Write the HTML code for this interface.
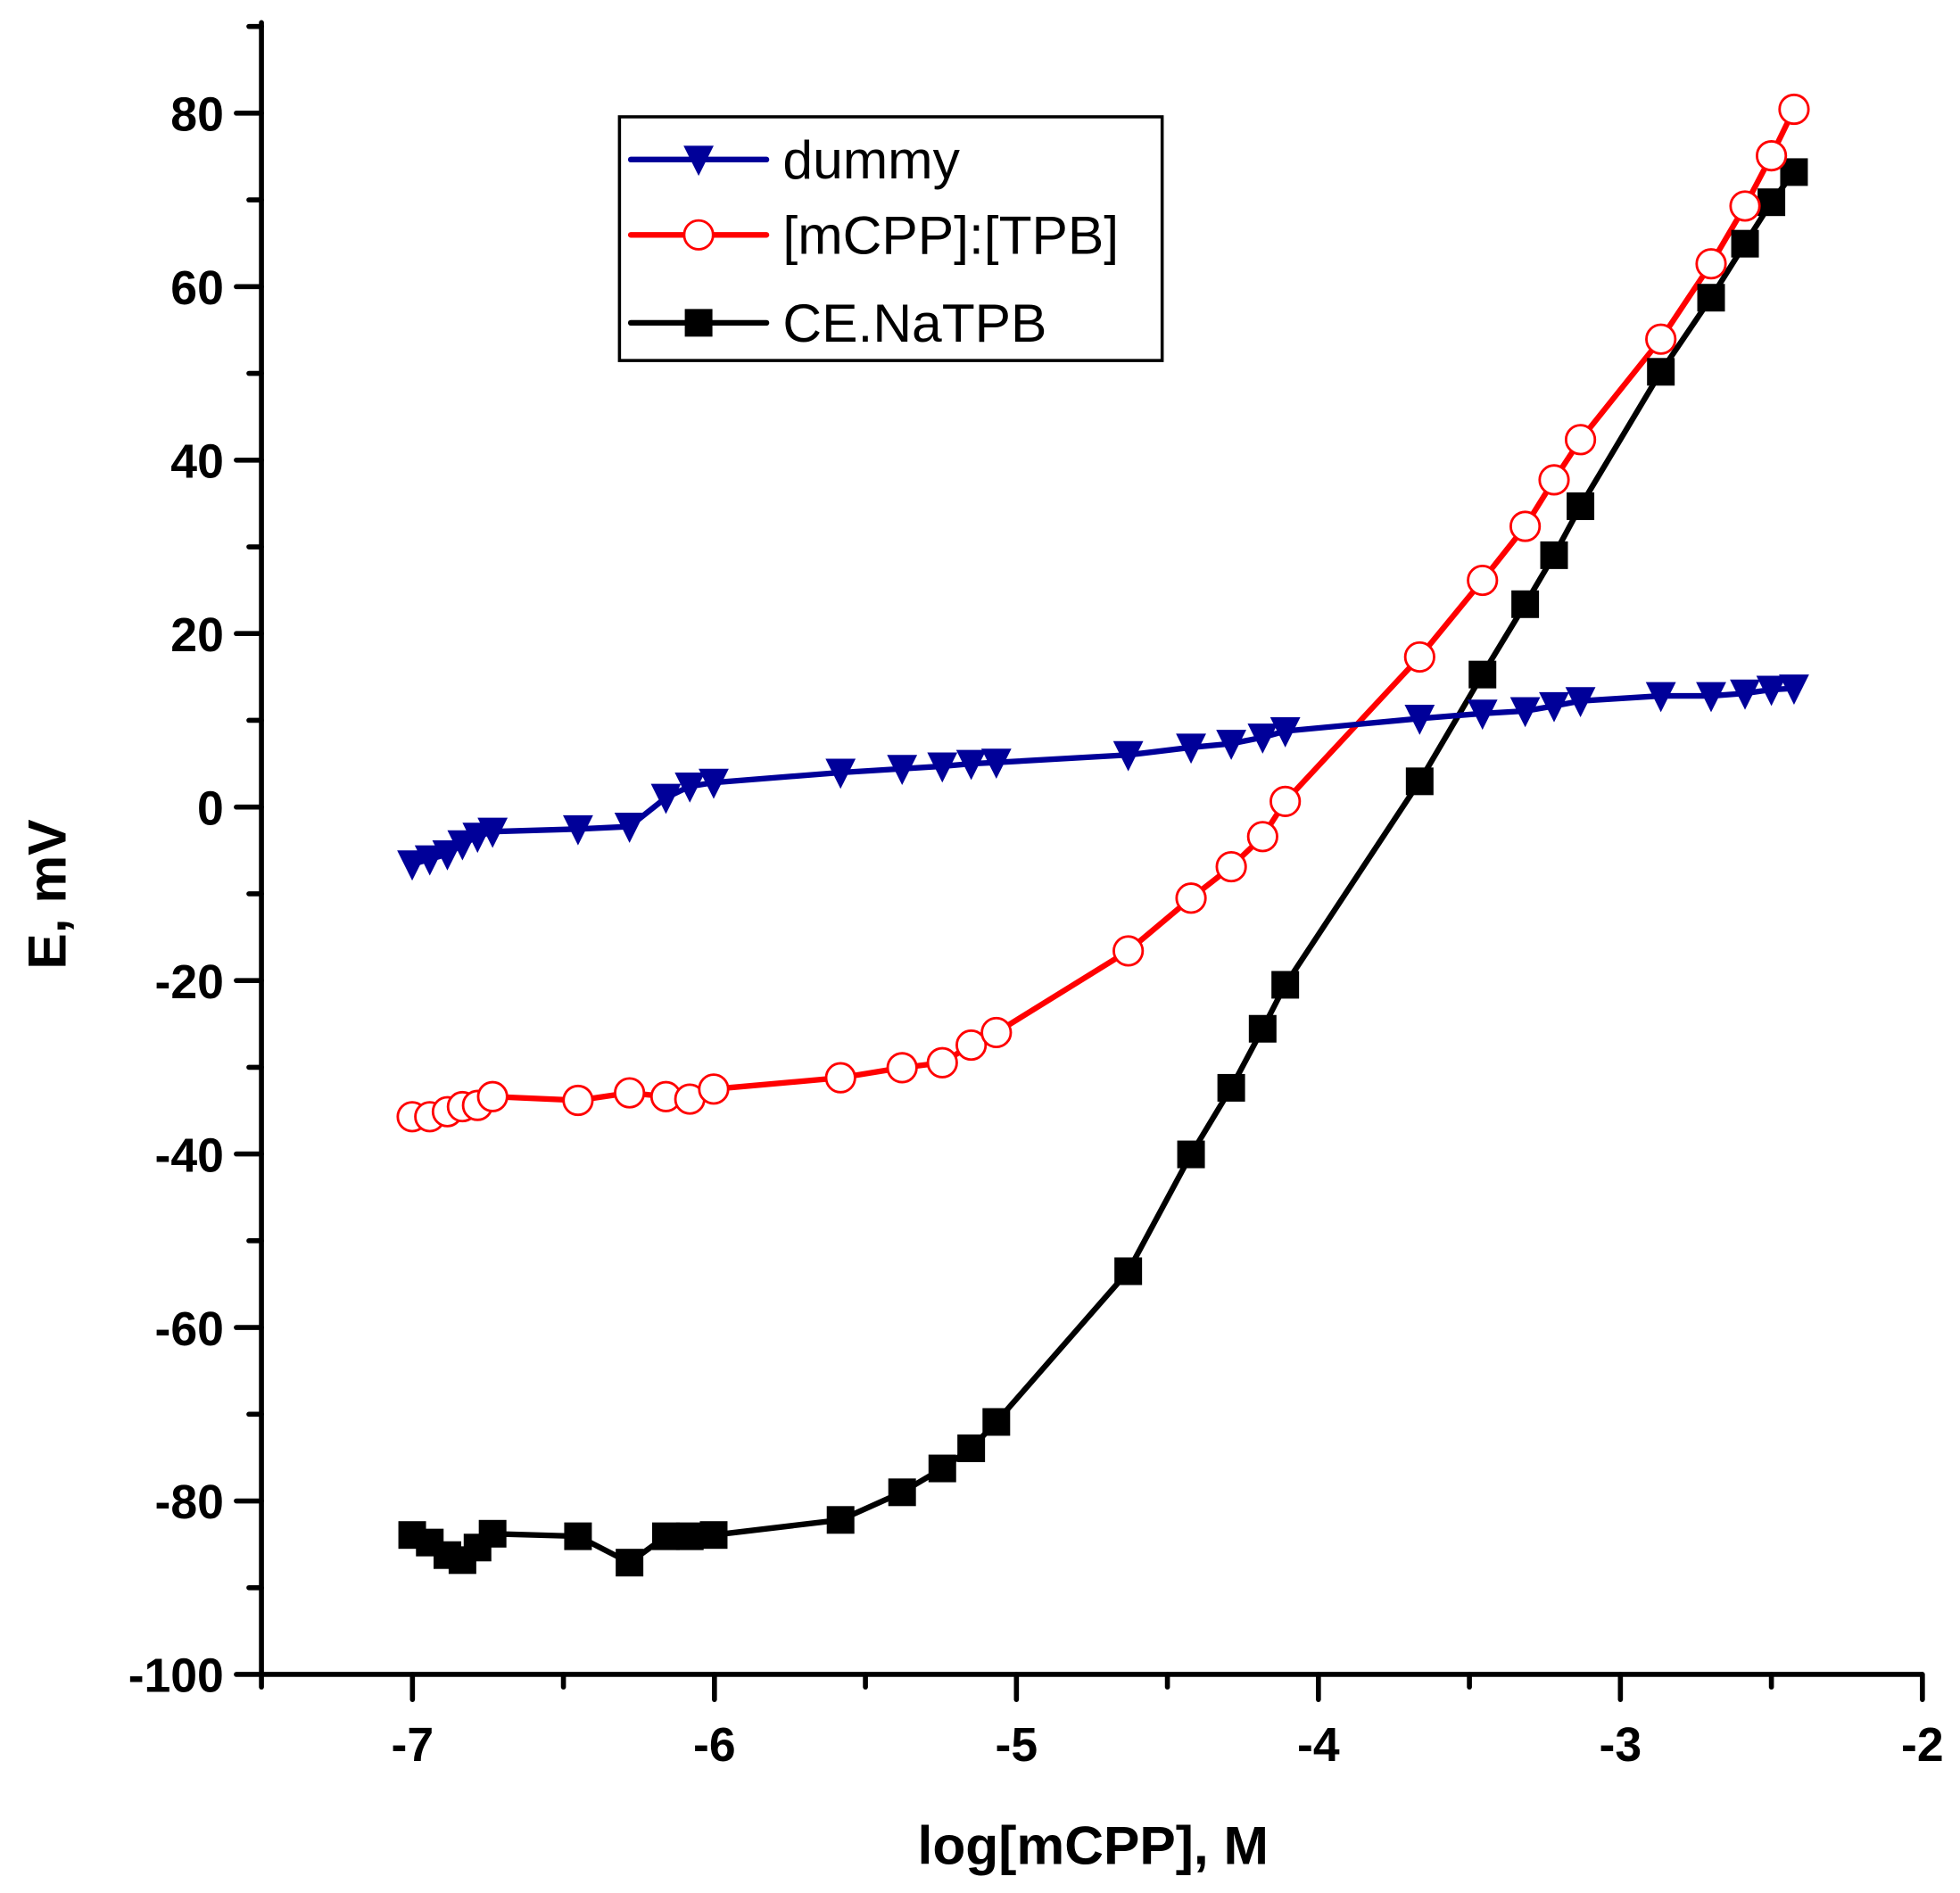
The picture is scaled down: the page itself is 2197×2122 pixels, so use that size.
<!DOCTYPE html>
<html><head><style>html,body{margin:0;padding:0;background:#fff}svg{display:block}</style></head>
<body>
<svg width="2197" height="2122" viewBox="0 0 1560 1507" xmlns="http://www.w3.org/2000/svg" font-family="Liberation Sans, Arial, sans-serif">
<rect width="1560" height="1507" fill="#fff"/>
<g stroke="#000" stroke-width="4" stroke-linecap="round" fill="none">
<line x1="208" y1="18" x2="208" y2="1333"/>
<line x1="208" y1="1333" x2="1530" y2="1333"/>
</g>
<g id="ticks" stroke="#000" stroke-width="4" stroke-linecap="round"></g>
<g font-size="38" font-weight="bold" text-anchor="end" fill="#000" id="ylab"></g>
<g font-size="38" font-weight="bold" text-anchor="middle" fill="#000" id="xlab"></g>
<text x="870" y="1484" font-size="43" font-weight="bold" text-anchor="middle">log[mCPP], M</text>
<text transform="translate(52,712) rotate(-90)" font-size="43" font-weight="bold" text-anchor="middle">E, mV</text>
<g id="series"></g>
<rect x="493" y="93" width="432" height="194" fill="none" stroke="#000" stroke-width="2.5"/>
<line x1="502" y1="127" x2="610" y2="127" stroke="#000099" stroke-width="4.5" stroke-linecap="round"/>
<polygon points="544,116 568,116 556,140" fill="#000099"/>
<line x1="502" y1="187" x2="610" y2="187" stroke="#f00" stroke-width="4.5" stroke-linecap="round"/>
<circle cx="556" cy="187" r="11.5" fill="#fff" stroke="#f00" stroke-width="2"/>
<line x1="502" y1="257" x2="610" y2="257" stroke="#000" stroke-width="4.5" stroke-linecap="round"/>
<rect x="545" y="246" width="22" height="22" fill="#000"/>
<text x="623" y="142" font-size="43">dummy</text>
<text x="623" y="202" font-size="43">[mCPP]:[TPB]</text>
<text x="623" y="272" font-size="43">CE.NaTPB</text>
</svg>
<script>
var NS="http://www.w3.org/2000/svg";
function el(p,t,a,txt){var e=document.createElementNS(NS,t);for(var k in a)e.setAttribute(k,a[k]);if(txt!=null)e.textContent=txt;p.appendChild(e);return e;}
var tk=document.getElementById('ticks'),yl=document.getElementById('ylab'),xl=document.getElementById('xlab');
for(var v=-100;v<=90;v+=10){var y=1333-(v+100)*138.1/20;var maj=(v%20===0);
el(tk,'line',{x1:208,y1:y,x2:maj?188:198,y2:y});
if(maj)el(yl,'text',{x:178,y:y+14},String(v));}
for(var i=0;i<=11;i++){var x=208+i*120.2;var maj=(i%2===1);
el(tk,'line',{x1:x,y1:1333,x2:x,y2:maj?1353:1343});
if(maj)el(xl,'text',{x:x,y:1402},String(-7+(i-1)/2));}
var xs=[328,342,356,368,380,392,460,501,530,549,568,669,718,750,773,793,898,948,980,1005,1023,1130,1180,1214,1237,1258,1322,1362,1389,1410,1428];
var blue=[688,684,680,672,666,662,660,658,635,626,623,615,612,610,608,607,601,595,592,587,582,572,568,566,562,558,554,554,552,549,548];
var red=[889,889,885,881,880,873,876,870,873,875,867,858,850,846,832,822,757,715,690,666,638,523,462,419,382,350,270,210,164,124,87];
var blk=[1222,1228,1238,1242,1232,1221,1223,1244,1223,1223,1222,1210,1188,1169,1153,1132,1012,919,866,819,784,622,537,481,442,403,296,237,194,161,137];
var s=document.getElementById('series');
function line(ys,c){el(s,'polyline',{points:xs.map(function(x,i){return x+','+ys[i]}).join(' '),fill:'none',stroke:c,'stroke-width':4.5,'stroke-linejoin':'round'});}
line(blk,'#000');line(red,'#f00');line(blue,'#000099');
xs.forEach(function(x,i){el(s,'rect',{x:x-11,y:blk[i]-11,width:22,height:22,fill:'#000'});});
xs.forEach(function(x,i){el(s,'circle',{cx:x,cy:red[i],r:11.5,fill:'#fff',stroke:'#f00','stroke-width':2});});
xs.forEach(function(x,i){var y=blue[i];el(s,'polygon',{points:(x-12)+','+(y-11)+' '+(x+12)+','+(y-11)+' '+x+','+(y+13),fill:'#000099'});});
</script>
</body></html>
